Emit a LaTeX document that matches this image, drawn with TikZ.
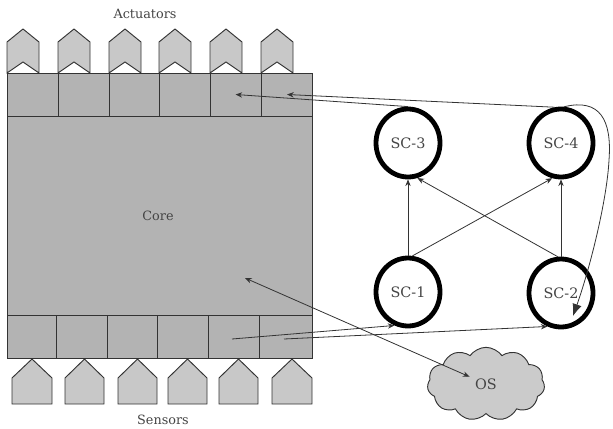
\documentclass[tikz,border=0pt]{standalone}
\usepackage{fontspec}
\setmainfont{DejaVu Serif}
\usetikzlibrary{shapes.geometric,shapes.symbols,arrows.meta,calc}
\definecolor{coregray}{HTML}{B3B3B3}
\definecolor{partgray}{HTML}{C8C8C8}
\definecolor{cloudgray}{HTML}{CBCBCB}
\definecolor{edgegray}{HTML}{333333}
\definecolor{textgray}{HTML}{444444}
\begin{document}
\begin{tikzpicture}[x=0.75pt,y=-0.75pt,
  cellline/.style={draw=edgegray,line width=0.7pt},
  corebox/.style={cellline,fill=coregray},
  partshape/.style={draw=edgegray,line width=0.7pt,fill=partgray,line join=miter},
  sclabel/.style={font=\fontsize{10.8}{12}\selectfont,text=textgray},
  sidelabel/.style={font=\fontsize{9.6}{11}\selectfont,text=textgray},
  scnode/.style={ellipse,draw=black,line width=3.6pt,fill=white,minimum width=48pt,minimum height=51pt,inner sep=0pt,sclabel},
  arr/.style={draw=edgegray,line width=0.6pt,-{Stealth[length=5pt,width=4pt]}},
  biarr/.style={draw=edgegray,line width=0.6pt,{Stealth[length=5pt,width=4pt]}-{Stealth[length=5pt,width=4pt]}},
  bigarr/.style={draw=edgegray,line width=0.6pt,-{Latex[length=9pt,width=7pt]}}
]
\useasboundingbox (0,0) rectangle (613,428);

% core block
\draw[corebox] (7,73) rectangle (312,358);
\draw[cellline] (7,116) -- (312,116);
\draw[cellline] (7,315) -- (312,315);
\foreach \x in {58,109,159,210,261} \draw[cellline] (\x,73) -- (\x,116);
\foreach \x in {56,107,157,208,259} \draw[cellline] (\x,315) -- (\x,358);

% actuators
\foreach \L in {7,58,109,159,210,261}
  \draw[partshape] (\L,73) -- (\L,42) -- (\L+16,29) -- (\L+32,42) -- (\L+32,73) -- (\L+16,62) -- cycle;
% sensors
\foreach \L/\R in {12/52,65/104,118/157,168/207,219/258,272/312}
  \draw[partshape] (\L,404) -- (\L,378) -- ({(\L+\R)/2},359) -- (\R,378) -- (\R,404) -- cycle;

\node[sidelabel] (actlabel) at (145,14) {Actuators};
\node[sidelabel] (senslabel) at (163,420) {Sensors};
\node[sidelabel] (corelabel) at (158,216) {Core};

\coordinate (a5) at (235.5,94.5);
\coordinate (a6) at (287,94.5);
\coordinate (s5) at (232,339);
\coordinate (s6) at (284,339);
\coordinate (coretip) at (245,278);

% SC nodes
\node[scnode] (sc3) at (408,143) {SC-3};
\node[scnode] (sc4) at (561,143) {SC-4};
\node[scnode] (sc1) at (408,292) {SC-1};
\node[scnode] (sc2) at (561,293) {SC-2};

% OS cloud
\node[cloud,cloud puffs=11,cloud puff arc=110,aspect=1.6,draw=edgegray,line width=0.7pt,fill=cloudgray,
      minimum width=88pt,minimum height=55pt,inner sep=0pt,sclabel] (os) at (486,384) {OS};

% SC connections
\draw[arr] (sc1.north) -- (sc3.south);
\draw[arr] (sc2.north) -- (sc4.south);
\draw[arr] (sc1.83) -- (sc4.256);
\draw[arr] (sc2.95) -- (sc3.285);

% to actuators
\draw[arr] (sc3.north) -- (a5);
\draw[arr] (sc4.100) -- (a6);

% from sensors
\draw[arr] (s5) -- (sc1.248);
\draw[arr] (s6) -- (sc2.248);

% core <-> OS
\draw[biarr,shorten >=13.5pt] (coretip) -- (os.center);

% curve SC-4 -> SC-2
\coordinate (sc2tip) at ($(sc2.center)+(12,23)$);
\draw[bigarr] (sc4.85) .. controls (600,98) and (612,120) .. (609,160)
  .. controls (607,200) and (590,268) .. (sc2tip);
\end{tikzpicture}
\end{document}
